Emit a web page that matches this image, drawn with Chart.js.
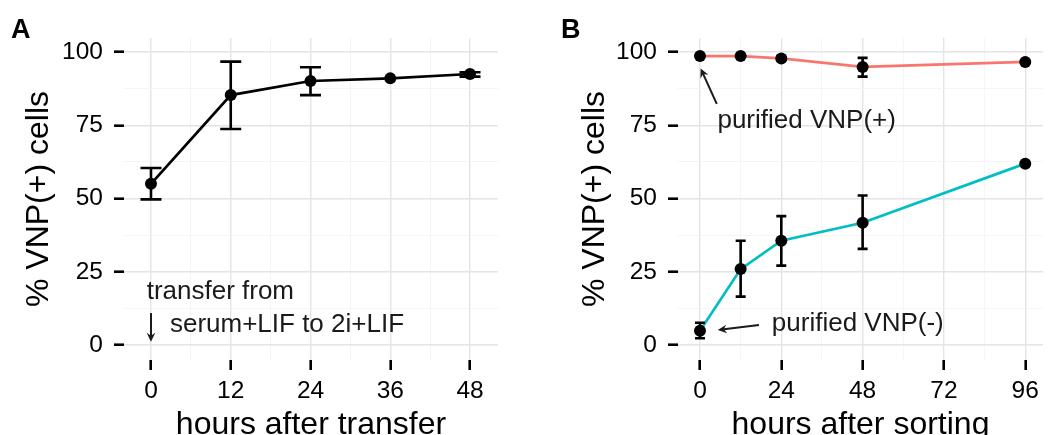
<!DOCTYPE html>
<html>
<head>
<meta charset="utf-8">
<script src="https://cdn.jsdelivr.net/npm/chart.js@4.4.0/dist/chart.umd.min.js"></script>
<style>
  html, body { margin: 0; padding: 0; background: #fff; overflow: hidden; width: 1049px; height: 435px; }
  .panel { position: absolute; top: 0; }
  .tag { position: absolute; font: bold 27px/27px "Liberation Sans", Arial, sans-serif; color: #000; }
</style>
</head>
<body>
<div class="panel" style="left:0"><canvas id="chartA" width="520" height="460"></canvas></div>
<div class="panel" style="left:530px"><canvas id="chartB" width="519" height="460"></canvas></div>
<div class="tag" style="left:11px;top:16px">A</div>
<div class="tag" style="left:561px;top:16px">B</div>
<script>
// ── data ──────────────────────────────────────────────
const hoursA = [0, 12, 24, 36, 48];
const meanA  = [55.0, 85.3, 90.1, 91.0, 92.5];
const lowA   = [49.7, 73.7, 85.3, 91.0, 91.6];
const highA  = [60.4, 96.7, 94.8, 91.0, 93.1];

const hoursB    = [0, 12, 24, 48, 96];
const plusMean  = [98.6, 98.6, 97.8, 94.9, 96.6];
const plusLow   = [98.2, 98.3, 97.2, 91.6, 96.6];
const plusHigh  = [99.0, 98.9, 98.4, 98.0, 96.6];
const minusMean = [4.9, 25.9, 35.6, 41.7, 61.9];
const minusLow  = [2.3, 16.5, 27.1, 32.8, 61.9];
const minusHigh = [7.6, 35.6, 44.0, 51.0, 61.9];

const xMajorA = [0, 12, 24, 36, 48];
const xMinorA = [6, 18, 30, 42];
const xMajorB = [0, 24, 48, 72, 96];
const xMinorB = [12, 36, 60, 84];
const yMajor  = [0, 25, 50, 75, 100];
const yMinor  = [12.5, 37.5, 62.5, 87.5];

const FONT = '"Liberation Sans", Arial, Helvetica, sans-serif';

function pts(xs, m, lo, hi) {
    return xs.map((x, i) => ({ x, y: m[i], lo: lo[i], hi: hi[i] }));
}

// error bars (black, with caps)
const errorBars = {
    id: 'errorBars',
    afterDatasetsDraw(chart, args, opts) {
        const { ctx, scales: { x, y } } = chart;
        const w = opts.cap / 2;
        ctx.save();
        ctx.strokeStyle = '#000';
        ctx.lineWidth = 2.6;
        chart.data.datasets.forEach(ds => ds.data.forEach(p => {
            if (p.lo === p.hi) return;
            const px = x.getPixelForValue(p.x);
            const y1 = y.getPixelForValue(p.lo), y2 = y.getPixelForValue(p.hi);
            ctx.beginPath();
            ctx.moveTo(px, y1); ctx.lineTo(px, y2);
            ctx.moveTo(px - w, y1); ctx.lineTo(px + w, y1);
            ctx.moveTo(px - w, y2); ctx.lineTo(px + w, y2);
            ctx.stroke();
        }));
        ctx.restore();
    }
};

// text labels + arrows, placed in data units
const notes = {
    id: 'notes',
    afterDraw(chart, args, opts) {
        const { ctx, scales: { x, y } } = chart;
        ctx.save();
        ctx.fillStyle = '#1a1a1a';
        ctx.font = `26px ${FONT}`;
        ctx.textAlign = 'left';
        ctx.textBaseline = 'alphabetic';
        (opts.texts || []).forEach(t => ctx.fillText(t.text, x.getPixelForValue(t.x), y.getPixelForValue(t.y)));

        ctx.strokeStyle = '#1a1a1a';
        ctx.fillStyle = '#1a1a1a';
        ctx.lineWidth = 2;
        (opts.arrows || []).forEach(a => {
            const x0 = x.getPixelForValue(a.x0), y0 = y.getPixelForValue(a.y0);
            const x1 = x.getPixelForValue(a.x1), y1 = y.getPixelForValue(a.y1);
            const ang = Math.atan2(y1 - y0, x1 - x0), L = 10, sp = Math.PI / 7;
            ctx.beginPath();
            ctx.moveTo(x0, y0); ctx.lineTo(x1 - 4 * Math.cos(ang), y1 - 4 * Math.sin(ang));
            ctx.stroke();
            ctx.beginPath();
            ctx.moveTo(x1, y1);
            ctx.lineTo(x1 - L * Math.cos(ang - sp), y1 - L * Math.sin(ang - sp));
            ctx.lineTo(x1 - 0.6 * L * Math.cos(ang), y1 - 0.6 * L * Math.sin(ang));
            ctx.lineTo(x1 - L * Math.cos(ang + sp), y1 - L * Math.sin(ang + sp));
            ctx.closePath();
            ctx.fill();
        });
        ctx.restore();
    }
};

function gridOpts(major) {
    const isMajor = c => c.tick && major.includes(c.tick.value);
    return {
        color: c => isMajor(c) ? '#e4e4e4' : '#f2f2f2',
        lineWidth: c => isMajor(c) ? 1.4 : 0.8,
        tickColor: c => isMajor(c) ? '#000' : 'rgba(0,0,0,0)',
        tickWidth: 2.6,
        tickLength: 10,
        drawTicks: true
    };
}

function makeChart(id, cfg) {
    const xAll = [...cfg.xMajor, ...cfg.xMinor].sort((a, b) => a - b);
    const yAll = [...yMajor, ...yMinor].sort((a, b) => a - b);
    return new Chart(document.getElementById(id), {
        type: 'line',
        data: { datasets: cfg.datasets },
        options: {
            responsive: false,
            animation: false,
            layout: { padding: { top: 38, right: cfg.padRight, left: 0, bottom: 0 } },
            plugins: {
                legend: { display: false },
                tooltip: { enabled: false },
                errorBars: { cap: cfg.cap },
                notes: cfg.notes
            },
            elements: {
                point: { radius: 6, backgroundColor: '#000', borderWidth: 0, hoverRadius: 6 },
                line: { borderWidth: 2.7, tension: 0 }
            },
            scales: {
                x: {
                    type: 'linear', min: cfg.xMin, max: cfg.xMax,
                    afterBuildTicks: s => { s.ticks = xAll.map(v => ({ value: v })); },
                    afterFit: s => { s.height = 100; },
                    ticks: {
                        callback: v => cfg.xMajor.includes(v) ? String(v) : '',
                        font: { family: FONT, size: 24.5 }, color: '#000',
                        padding: 7, maxRotation: 0, autoSkip: false
                    },
                    grid: gridOpts(cfg.xMajor),
                    border: { display: false },
                    title: {
                        display: true, text: cfg.xTitle, color: '#000',
                        font: { family: FONT, size: 32, lineHeight: 1 },
                        padding: { top: 0, bottom: 19 }
                    }
                },
                y: {
                    type: 'linear', min: -5.12, max: 104.78,
                    afterBuildTicks: s => { s.ticks = yAll.map(v => ({ value: v })); },
                    afterFit: s => { s.width = cfg.yWidth; },
                    ticks: {
                        callback: v => yMajor.includes(v) ? String(v) : '',
                        font: { family: FONT, size: 24.5 }, color: '#000',
                        padding: 11, autoSkip: false
                    },
                    grid: gridOpts(yMajor),
                    border: { display: false },
                    title: {
                        display: true, text: '% VNP(+) cells', color: '#000',
                        font: { family: FONT, size: 32, lineHeight: 1 },
                        padding: { top: cfg.yTitlePad, bottom: 0 }
                    }
                }
            }
        },
        plugins: [errorBars, notes]
    });
}

makeChart('chartA', {
    datasets: [{ data: pts(hoursA, meanA, lowA, highA), borderColor: '#000', pointBackgroundColor: '#000' }],
    xMajor: xMajorA, xMinor: xMinorA, xMin: -4.06, xMax: 52.21,
    xTitle: 'hours after transfer', yWidth: 124, yTitlePad: 23, padRight: 22, cap: 21,
    notes: {
        texts: [
            { text: 'transfer from', x: -0.65, y: 15.7 },
            { text: 'serum+LIF to 2i+LIF', x: 2.85, y: 4.6 }
        ],
        arrows: [{ x0: 0, y0: 10.9, x1: 0, y1: 1.1 }]
    }
});

makeChart('chartB', {
    datasets: [
        { data: pts(hoursB, plusMean, plusLow, plusHigh), borderColor: '#F8766D', pointBackgroundColor: '#000' },
        { data: pts(hoursB, minusMean, minusLow, minusHigh), borderColor: '#00BFC4', pointBackgroundColor: '#000' }
    ],
    xMajor: xMajorB, xMinor: xMinorB, xMin: -6.49, xMax: 101.24,
    xTitle: 'hours after sorting', yWidth: 148, yTitlePad: 49, padRight: 1, cap: 10,
    notes: {
        texts: [
            { text: 'purified VNP(+)', x: 5.15, y: 74.0 },
            { text: 'purified VNP(-)', x: 21.2, y: 4.8 }
        ],
        arrows: [
            { x0: 4.95, y0: 82.3, x1: 0.2, y1: 94.4 },
            { x0: 17.4, y0: 6.8, x1: 5.25, y1: 5.1 }
        ]
    }
});
</script>
</body>
</html>
